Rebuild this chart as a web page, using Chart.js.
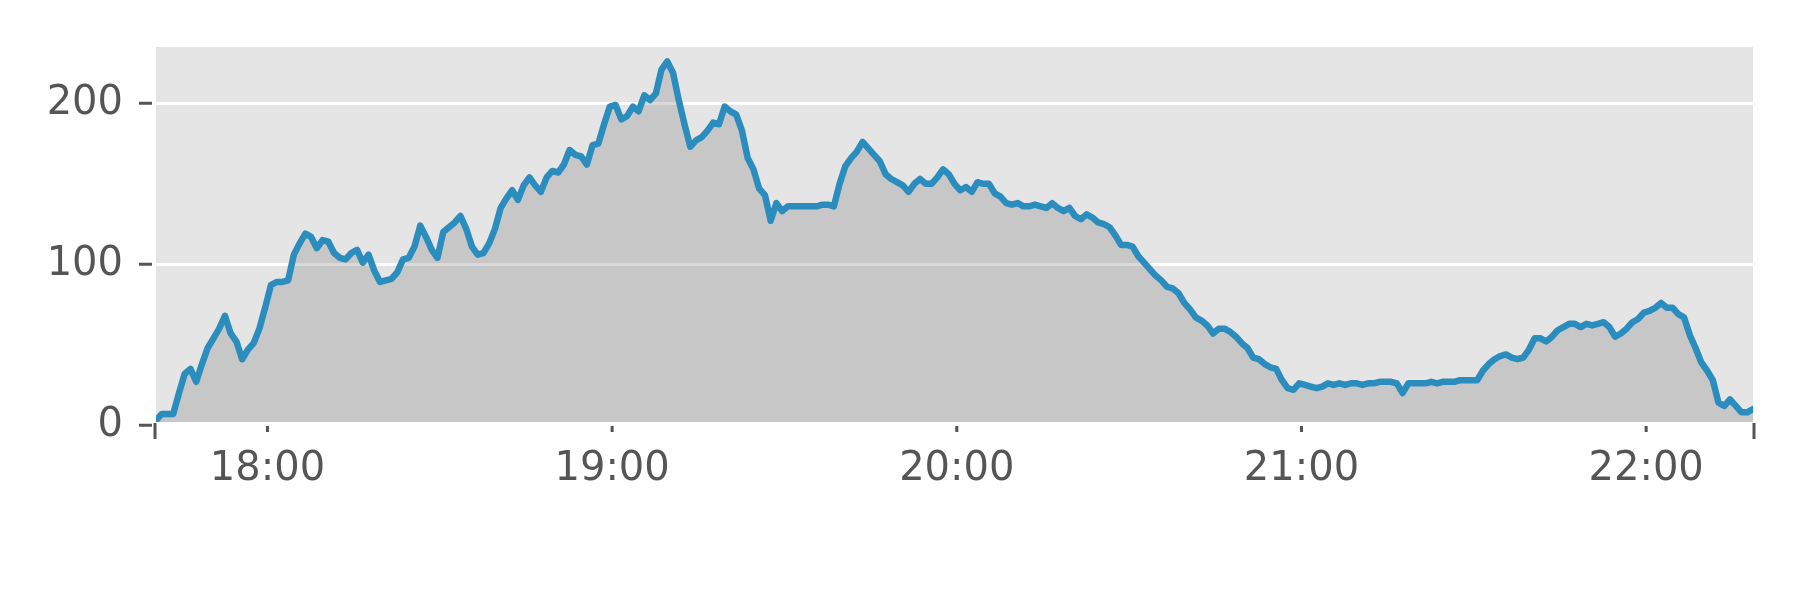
<!DOCTYPE html>
<html>
<head>
<meta charset="utf-8">
<script src="https://cdn.jsdelivr.net/npm/chart.js@4.4.0/dist/chart.umd.min.js"></script>
<style>
    body { margin: 0; background: #ffffff; }
</style>
</head>
<body>
<canvas id="trendChart" width="1800" height="600"></canvas>
<script>
// one sample per minute, first one at 17:40.6 (minutes counted from 17:00)
const startMinute = 40.6;
const counts = [
    3, 7, 7, 7, 20, 32, 35, 27, 38, 48,
    54, 60, 68, 57, 52, 41, 47, 51, 60, 73,
    87, 89, 89, 90, 106, 113, 119, 117, 110, 115,
    114, 107, 104, 103, 107, 109, 101, 106, 96, 89,
    90, 91, 95, 103, 104, 111, 124, 117, 109, 104,
    120, 123, 126, 130, 122, 111, 106, 107, 113, 122,
    135, 141, 146, 140, 149, 154, 149, 145, 154, 158,
    157, 162, 171, 168, 167, 162, 174, 175, 187, 198,
    199, 190, 192, 198, 195, 205, 202, 206, 221, 226,
    219, 202, 187, 173, 177, 179, 183, 188, 187, 198,
    195, 193, 183, 166, 159, 147, 143, 127, 138, 133,
    136, 136, 136, 136, 136, 136, 137, 137, 136, 150,
    161, 166, 170, 176, 172, 168, 164, 156, 153, 151,
    149, 145, 150, 153, 150, 150, 154, 159, 156, 150,
    146, 148, 145, 151, 150, 150, 144, 142, 138, 137,
    138, 136, 136, 137, 136, 135, 138, 135, 133, 135,
    130, 128, 131, 129, 126, 125, 123, 118, 112, 112,
    111, 105, 101, 97, 93, 90, 86, 85, 82, 76,
    72, 67, 65, 62, 57, 60, 60, 58, 55, 51,
    48, 42, 41, 38, 36, 35, 28, 23, 22, 26,
    25, 24, 23, 24, 26, 25, 26, 25, 26, 26,
    25, 26, 26, 27, 27, 27, 26, 20, 26, 26,
    26, 26, 27, 26, 27, 27, 27, 28, 28, 28,
    28, 34, 38, 41, 43, 44, 42, 41, 42, 47,
    54, 54, 52, 55, 59, 61, 63, 63, 61, 63,
    62, 63, 64, 61, 55, 57, 60, 64, 66, 70,
    71, 73, 76, 73, 73, 69, 67, 56, 48, 39,
    34, 28, 14, 12, 16, 12, 8, 8, 10
];
const xTickMinutes = [60, 120, 180, 240, 300];
const xTickLabels = ['18:00', '19:00', '20:00', '21:00', '22:00'];
const yTicks = [0, 100, 200];

const points = counts.map((v, i) => ({ x: startMinute + i, y: v }));
const endMinute = startMinute + counts.length - 1;

const font = { family: 'DejaVu Sans', size: 40 };

// keep the plot box where the reference has it
const noScalePadding = (scale) => {
    scale.paddingTop = 0;
    scale.paddingBottom = 0;
    scale.paddingLeft = 0;
    scale.paddingRight = 0;
};

// grey panel behind the plot and ggplot-like tick marks
const ggplotPanel = {
    id: 'ggplotPanel',
    beforeDraw: (chart) => {
        const { ctx, chartArea: a } = chart;
        ctx.save();
        ctx.fillStyle = '#e5e5e5';
        ctx.fillRect(a.left, a.top, a.right - a.left, a.bottom - a.top);
        ctx.restore();
    },
    afterDraw: (chart) => {
        const { ctx, chartArea: a, scales } = chart;
        ctx.save();
        ctx.strokeStyle = '#555555';
        ctx.lineWidth = 3;
        ctx.beginPath();
        yTicks.forEach(v => {
            const y = scales.y.getPixelForValue(v);
            ctx.moveTo(a.left - 17, y);
            ctx.lineTo(a.left - 4, y);
        });
        xTickMinutes.forEach(m => {
            const x = scales.x.getPixelForValue(m);
            ctx.moveTo(x, a.bottom + 4);
            ctx.lineTo(x, a.bottom + 10);
        });
        [a.left - 1, a.right + 1].forEach(x => {
            ctx.moveTo(x, a.bottom + 1);
            ctx.lineTo(x, a.bottom + 17);
        });
        ctx.stroke();
        ctx.restore();
    }
};

const ctx = document.getElementById('trendChart').getContext('2d');
new Chart(ctx, {
    type: 'line',
    data: {
        datasets: [{
            data: points,
            borderColor: '#2b8cbe',
            borderWidth: 6.5,
            backgroundColor: 'rgba(128, 128, 128, 0.3)',
            fill: 'start',
            pointRadius: 0,
            tension: 0,
            borderJoinStyle: 'round',
            borderCapStyle: 'round'
        }]
    },
    options: {
        responsive: false,
        devicePixelRatio: 1,
        animation: false,
        layout: { padding: { top: 47, right: 47, left: 0, bottom: 0 } },
        plugins: {
            legend: { display: false },
            tooltip: { enabled: false }
        },
        scales: {
            x: {
                type: 'linear',
                min: startMinute,
                max: endMinute,
                afterBuildTicks: (scale) => {
                    scale.ticks = xTickMinutes.map(v => ({ value: v }));
                },
                afterFit: (scale) => {
                    scale.height = 178;
                    noScalePadding(scale);
                },
                grid: { display: false },
                border: { display: false },
                ticks: {
                    autoSkip: false,
                    maxRotation: 0,
                    padding: 16,
                    color: '#555555',
                    font: font,
                    callback: (value, index) => xTickLabels[index]
                }
            },
            y: {
                min: 2,
                max: 235,
                afterBuildTicks: (scale) => {
                    scale.ticks = yTicks.map(v => ({ value: v }));
                },
                afterFit: (scale) => {
                    scale.width = 156;
                    noScalePadding(scale);
                },
                grid: { color: '#ffffff', lineWidth: 3, drawTicks: false },
                border: { display: false },
                ticks: {
                    padding: 33,
                    color: '#555555',
                    font: font,
                    callback: (value) => String(value)
                }
            }
        }
    },
    plugins: [ggplotPanel]
});
</script>
</body>
</html>
